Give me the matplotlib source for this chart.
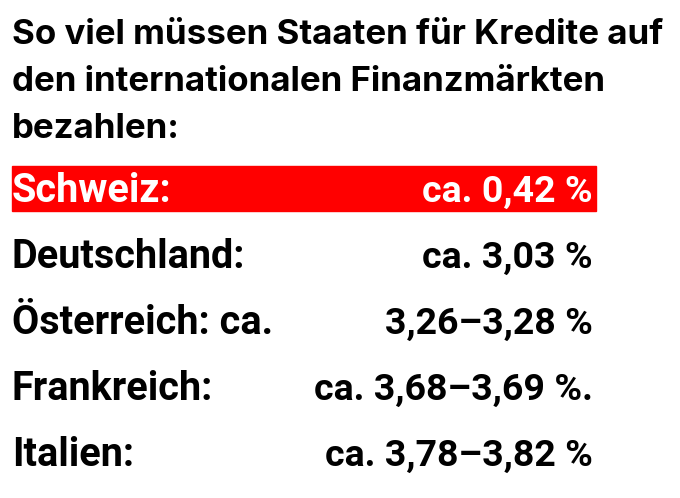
import matplotlib
matplotlib.use("Agg")
import matplotlib.pyplot as plt
from matplotlib.patches import Rectangle

W, H = 680, 498

title_lines = [
    "So viel müssen Staaten für Kredite auf",
    "den internationalen Finanzmärkten",
    "bezahlen:",
]
laender = ["Schweiz:", "Deutschland:", "Österreich: ca.", "Frankreich:", "Italien:"]
werte = ["ca. 0,42 %", "ca. 3,03 %", "3,26–3,28 %", "ca. 3,68–3,69 %.", "ca. 3,78–3,82 %"]
hervorheben = "Schweiz:"

TITLE_FONT = ["Inter", "DejaVu Sans"]
ROW_FONT = ["Roboto", "DejaVu Sans"]


def fx(px):
    return px / W


def fy(px):
    return 1 - px / H


fig = plt.figure(figsize=(W / 100, H / 100), dpi=100)
fig.patch.set_facecolor("white")
renderer = fig.canvas.get_renderer()


def fit_size(text, family, target_px, start=20):
    t = fig.text(0, 0, text, family=family, fontweight="bold", fontsize=start)
    w = t.get_window_extent(renderer).width
    t.remove()
    return start * target_px / w


title_size = fit_size(title_lines[0], TITLE_FONT, 653)
row_size = fit_size("Deutschland:", ROW_FONT, 233)
val_size = fit_size("ca. 0,42 %", ROW_FONT, 170)

# title, three lines
for i, line in enumerate(title_lines):
    fig.text(fx(12), fy(44 + i * 47), line, family=TITLE_FONT, fontweight="bold",
             fontsize=title_size, va="baseline", ha="left", color="black")

# rows
row0, step = 188, 66
for i, (land, wert) in enumerate(zip(laender, werte)):
    yc = row0 + i * step
    col = "black"
    if land == hervorheben:
        fig.patches.append(Rectangle((fx(12), fy(211)), fx(596) - fx(12), fy(166) - fy(211),
                                     transform=fig.transFigure, color="#ff0000", zorder=0))
        col = "white"
    base = yc + 14
    fig.text(fx(12), fy(base), land, family=ROW_FONT, fontweight="bold", fontsize=row_size,
             va="baseline", ha="left", color=col)
    fig.text(fx(593), fy(base), wert, family=ROW_FONT, fontweight="bold", fontsize=val_size,
             va="baseline", ha="right", color=col)

fig.savefig("out.png", dpi=100, facecolor="white")
